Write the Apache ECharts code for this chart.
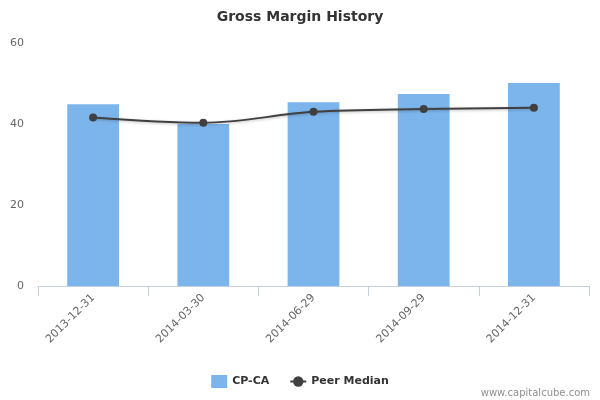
<!DOCTYPE html>
<html><head><meta charset="utf-8">
<script src="https://cdn.jsdelivr.net/npm/echarts@6/dist/echarts.min.js"></script>
<style>html,body{margin:0;padding:0;background:#fff}#c{width:600px;height:400px}</style>
</head><body><div id="c"></div>
<script>
const categories = ['2013-12-31','2014-03-30','2014-06-29','2014-09-29','2014-12-31'];
const companyValues = [44.9, 40.0, 45.4, 47.4, 50.1];
const peerMedian = [41.6, 40.3, 43.0, 43.7, 44.0];
const yTicks = [0, 20, 40, 60];

const chart = echarts.init(document.getElementById('c'));
chart.setOption({
  animation: false,
  title: {
    text: 'Gross Margin History', left: 'center', top: 5,
    textStyle: {fontFamily: 'DejaVu Sans', fontSize: 14, fontWeight: 'bold', color: '#333'}
  },
  graphic: [{
    type: 'text', right: 10, top: 388,
    style: {text: 'www.capitalcube.com', fill: '#909090', font: '10px DejaVu Sans'}
  }],
  legend: {
    bottom: 7, left: 'center', itemGap: 20, itemWidth: 16, itemHeight: 13,
    textStyle: {fontFamily: 'DejaVu Sans', fontSize: 11, fontWeight: 'bold', color: '#333'},
    data: [{name: 'CP-CA', icon: 'rect'}, {name: 'Peer Median'}]
  },
  grid: {left: 38, right: 11, top: 43, bottom: 114},
  xAxis: {
    type: 'category', data: categories, boundaryGap: true,
    axisLine: {lineStyle: {color: '#C0D0E0'}},
    axisTick: {show: true, alignWithLabel: false, length: 10, lineStyle: {color: '#C0D0E0'}},
    axisLabel: {rotate: 45, color: '#666', fontFamily: 'DejaVu Sans', fontSize: 11, margin: 10}
  },
  yAxis: {
    type: 'value', min: yTicks[0], max: yTicks[yTicks.length - 1], interval: 20,
    axisLine: {show: false}, axisTick: {show: false},
    splitLine: {show: false},
    axisLabel: {color: '#666', fontFamily: 'DejaVu Sans', fontSize: 11, margin: 14}
  },
  series: [
    {
      name: 'CP-CA', type: 'bar', data: companyValues, barWidth: '47%',
      itemStyle: {color: '#7cb5ec'}
    },
    {
      name: 'Peer Median', type: 'line', data: peerMedian, smooth: 0.35,
      symbol: 'circle', symbolSize: 8,
      lineStyle: {color: '#404040', width: 2, shadowColor: 'rgba(0,0,0,0.25)', shadowBlur: 3, shadowOffsetY: 1},
      itemStyle: {color: '#404040'}
    }
  ]
});
</script></body></html>
